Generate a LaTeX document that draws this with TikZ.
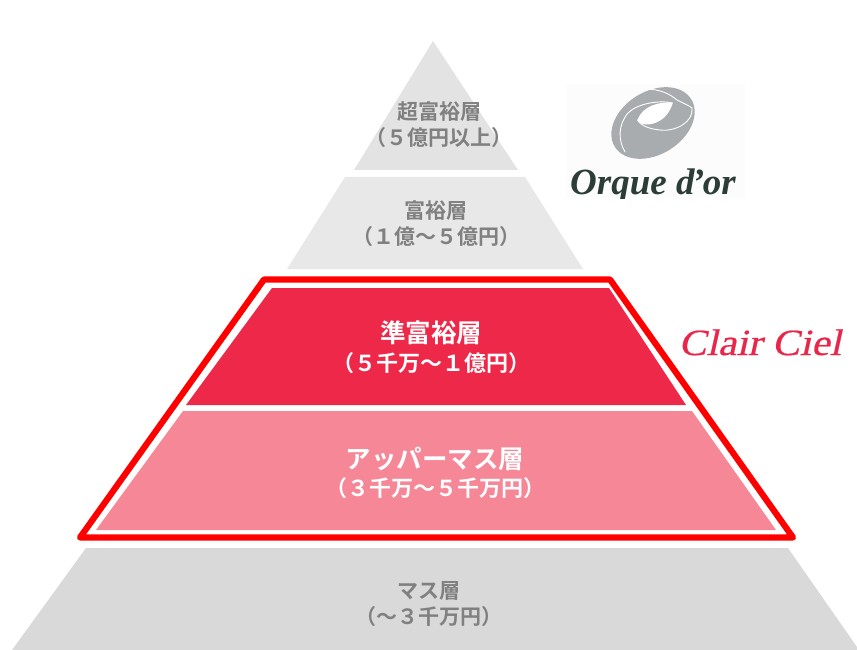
\documentclass[tikz,border=0pt]{standalone}
\usepackage{fontspec}
\setmainfont{Liberation Serif}
\newfontfamily\jpfont{Noto Sans CJK JP}[BoldFont={Noto Sans CJK JP Bold}]
\newfontfamily\cielfont{Liberation Serif}[FakeSlant=0.22,FakeStretch=1.12,FakeBold=0.6]
\definecolor{tiera}{HTML}{E3E3E3}
\definecolor{tierb}{HTML}{E8E8E8}
\definecolor{tierc}{HTML}{EE2849}
\definecolor{tierd}{HTML}{F58797}
\definecolor{tiere}{HTML}{D9D9D9}
\definecolor{txtgray}{HTML}{808080}
\definecolor{logogray}{HTML}{A8ACAF}
\definecolor{logotext}{HTML}{2C3C37}
\definecolor{cielred}{HTML}{E8264A}
\tikzset{
  lab/.style={align=center, inner sep=0pt},
  graylab/.style={lab, text=txtgray, font=\jpfont\bfseries\fontsize{21}{26}\selectfont},
  whitelab/.style={lab, text=white, font=\jpfont\bfseries\fontsize{22}{28.5}\selectfont},
  swirl/.style={draw=white, line width=0.9pt, line cap=round},
}
\newcommand{\bigline}{\fontsize{25.5}{28.5}\selectfont}
\begin{document}
\begin{tikzpicture}[x=1pt,y=-1pt]
\useasboundingbox (0,0) rectangle (857,650);
% tiers
\fill[tiera] (433,41) -- (518,170) -- (354,170) -- cycle;
\fill[tierb] (345,177) -- (525,177) -- (583,269) -- (287,269) -- cycle;
\fill[tierc] (272,288) -- (609,288) -- (686,405) -- (186,405) -- cycle;
\fill[tierd] (183,411) -- (692,411) -- (776,530) -- (96,530) -- cycle;
\fill[tiere] (86,548) -- (788,548) -- (857,647) -- (857,650) -- (12,650) -- cycle;
\draw[red, line width=6.2pt, line join=round] (264,279.5) -- (610,279.5) -- (793,537.5) -- (80,537.5) -- cycle;
% logo
\fill[white!99!black] (566,85) rectangle (745,198);
\fill[logogray, rotate around={32:(653,123)}] (653,123) ellipse (45 and 31.5);
\fill[white] (672.7,103) .. controls (660,101) and (642,106) .. (637.5,120) .. controls (640,128) and (666,127) .. (672.7,103) -- cycle;
\draw[swirl] (645,89) .. controls (660,89) and (670,94) .. (677,100) .. controls (683,103) and (688,105) .. (692,108);
\draw[swirl] (692,108) .. controls (694,122) and (675,132) .. (660,130) .. controls (650,129) and (641,126) .. (637.5,120);
\draw[swirl] (625,152) .. controls (618,140) and (618,125) .. (628,113) .. controls (638,103) and (660,100) .. (672.7,103);
\begin{scope}
\clip (566,85) rectangle (745,198);
\node[inner sep=0pt, anchor=base, text=logotext, font=\bfseries\itshape\fontsize{37}{37}\selectfont] (orque) at (653,194) {Orque d\kern-2.5pt’\kern-1.5pt or};
\end{scope}
% labels
\node[graylab] (l1) at (439,125) {超富裕層\\（５億円以上）};
\node[graylab] (l2) at (436,224) {富裕層\\（１億～５億円）};
\node[whitelab] (l3) at (431,347) {{\bigline 準富裕層}\\（５千万～１億円）};
\node[whitelab] (l4) at (435,473) {{\bigline アッパーマス層}\\（３千万～５千万円）};
\node[graylab] (l5) at (429,604) {マス層\\（～３千万円）};
\node[inner sep=0pt, anchor=base, text=cielred, font=\cielfont\fontsize{37}{37}\selectfont] (ciel) at (760,355) {Clair Ciel};
\end{tikzpicture}
\end{document}
